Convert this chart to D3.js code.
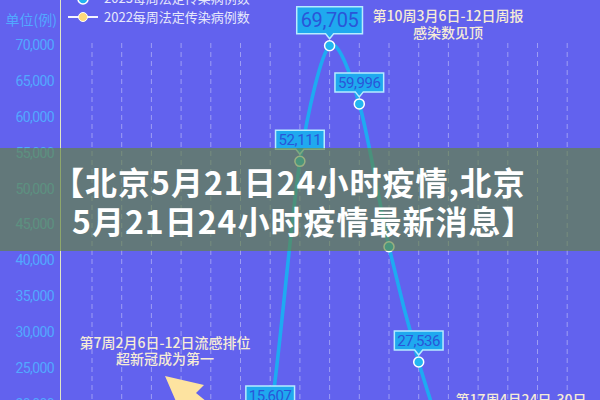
<!DOCTYPE html>
<html lang="zh">
<head>
  <meta charset="UTF-8" />
  <title>2023每周法定传染病例数</title>
  <script src="https://d3js.org/d3.v7.min.js"></script>
  <style>
    body { margin: 0; padding: 0; background: #6262ee; overflow: hidden; }
    svg { display: block; font-family: "Noto Sans CJK SC", "Noto Sans", sans-serif; }
    .ytick text { fill: #52a8ff; font-size: 14px; font-family: Roboto, "Noto Sans", sans-serif; letter-spacing: -0.6px; }
    .grid { stroke: rgba(255,255,255,0.38); stroke-dasharray: 5,4; }
    .note { fill: #f6ecd6; font-size: 14px; font-weight: 500; text-anchor: middle; }
    .legend { fill: #e6e8fb; font-size: 13px; }
    .box text { fill: #2a56d8; font-family: Roboto, "Noto Sans", sans-serif; text-anchor: middle; letter-spacing: -0.4px; }
    .banner text { fill: #fff; font-size: 32px; font-weight: 700; letter-spacing: 1px; }
  </style>
</head>
<body>
<svg width="600" height="400"></svg>
<script>
// 2023 weekly notifiable infectious disease cases (visible part of the curve)
const weeks = [7, 8, 9, 10, 11, 12, 13, 14];
const cases2023 = [5000, 18200, 53800, 69900, 61800, 41900, 25850, 13000];
const pointLabels = ["", "15,607", "52,111", "69,705", "59,996", "", "27,536", ""];
const peakWeek = 10;

const yTicks = [20000, 25000, 30000, 35000, 40000, 45000, 50000, 55000, 60000, 65000, 70000];
const gridWeeks = d3.range(2, 19);
const legendNames = ["2023每周法定传染病例数", "2022每周法定传染病例数"];
const unitLabel = "单位(例)";
const topNote = ["第10周3月6日-12日周报", "感染数见顶"];
const leftNote = ["第7周2月6日-12日流感排位", "超新冠成为第一"];
const bottomNote = ["第17周4月24日-30日"];
const bannerLines = ["【北京5月21日24小时疫情,北京", "5月21日24小时疫情最新消息】"];

const svg = d3.select("svg");
const W = 600, H = 400;

const x = d3.scaleLinear().domain([1, 18]).range([62.3, 567.2]);
const y = d3.scaleLinear().domain([20000, 70000]).range([404, 45]);

// vertical dashed grid
svg.append("g").selectAll("line").data(gridWeeks).enter().append("line")
  .attr("class", "grid")
  .attr("x1", d => x(d)).attr("x2", d => x(d))
  .attr("y1", 43).attr("y2", H);

// y axis
const yAxis = svg.append("g").attr("class", "ytick").attr("transform", "translate(60,0)")
  .call(d3.axisLeft(y).tickValues(yTicks).tickSize(0).tickPadding(6).tickFormat(d3.format(",")));
yAxis.select(".domain").remove();
svg.append("line").attr("x1", 60.5).attr("x2", 60.5).attr("y1", 0).attr("y2", H)
  .attr("stroke", "#dfe6c6").attr("stroke-width", 1);
svg.append("text").attr("x", 57).attr("y", 25).attr("text-anchor", "end")
  .attr("fill", "#52a8ff").attr("font-size", 14).text(unitLabel);

// legend
const lg = svg.append("g");
lg.append("line").attr("x1", 68).attr("x2", 98).attr("y1", -1).attr("y2", -1)
  .attr("stroke", "#1eaaf0").attr("stroke-width", 2);
lg.append("circle").attr("cx", 83).attr("cy", -1).attr("r", 5)
  .attr("fill", "#22b4f0").attr("stroke", "#fff").attr("stroke-width", 1.5);
lg.append("line").attr("x1", 68).attr("x2", 98).attr("y1", 17).attr("y2", 17)
  .attr("stroke", "#f4f4ff").attr("stroke-width", 2);
lg.append("circle").attr("cx", 83).attr("cy", 17).attr("r", 4.5)
  .attr("fill", "#ffd97a").attr("stroke", "#fff").attr("stroke-width", 1);
lg.selectAll("text").data(legendNames).enter().append("text")
  .attr("class", "legend").attr("x", 104).attr("y", (d, i) => 3 + i * 19).text(d => d);

// line
const pts = weeks.map((w, i) => ({ w, v: cases2023[i], label: pointLabels[i] }));
svg.append("path").datum(pts)
  .attr("fill", "none").attr("stroke", "#1eaaf2").attr("stroke-width", 3.6)
  .attr("d", d3.line().x(d => x(d.w)).y(d => y(d.v)).curve(d3.curveCardinal.tension(0.15)));

svg.append("g").selectAll("circle").data(pts).enter().append("circle")
  .attr("cx", d => x(d.w)).attr("cy", d => y(d.v)).attr("r", 5)
  .attr("fill", "#22b6f0").attr("stroke", "#fff").attr("stroke-width", 1.5);

// value boxes
const boxes = svg.append("g").selectAll("g").data(pts.filter(d => d.label)).enter().append("g")
  .attr("class", "box");
boxes.each(function(d) {
  const g = d3.select(this);
  const big = d.w === peakWeek;
  const fs = big ? 20 : 15, h = big ? 27 : 19;
  const cx = x(d.w), bottom = y(d.v) - 12;
  const t = g.append("text").attr("font-size", fs).text(d.label);
  const tw = t.node().getComputedTextLength();
  const w = tw + (big ? 8 : 6);
  const l = cx - w / 2, r = cx + w / 2, top = bottom - h;
  g.insert("path", "text")
    .attr("d", `M${l},${top}H${r}V${bottom}H${cx + 4}L${cx},${bottom + 5}L${cx - 4},${bottom}H${l}Z`)
    .attr("fill", "#1fa9ef").attr("stroke", "#b6ecff").attr("stroke-width", 1.5);
  t.attr("x", cx).attr("y", top + h / 2 + fs * 0.36);
});

// annotations
svg.append("g").selectAll("text").data(topNote).enter().append("text")
  .attr("class", "note").attr("x", 448).attr("y", (d, i) => 21 + i * 17).text(d => d);
svg.append("g").selectAll("text").data(leftNote).enter().append("text")
  .attr("class", "note").attr("x", 165).attr("y", (d, i) => 348 + i * 16).text(d => d);
svg.append("g").selectAll("text").data(bottomNote).enter().append("text")
  .attr("class", "note").attr("x", 521).attr("y", 405).text(d => d);
svg.append("polygon")
  .attr("points", "165,376 204,385 196,393 212,406 178,406")
  .attr("fill", "#fde3a0");

// title banner over the chart
const banner = svg.append("g").attr("class", "banner");
banner.append("rect").attr("x", 0).attr("y", 148).attr("width", W).attr("height", 103)
  .attr("fill", "rgb(98,132,60)").attr("fill-opacity", 0.65);
banner.selectAll("text").data(bannerLines).enter().append("text")
  .attr("x", (d, i) => i ? 72 : 52).attr("y", (d, i) => 195 + i * 39).text(d => d);
</script>
</body>
</html>
